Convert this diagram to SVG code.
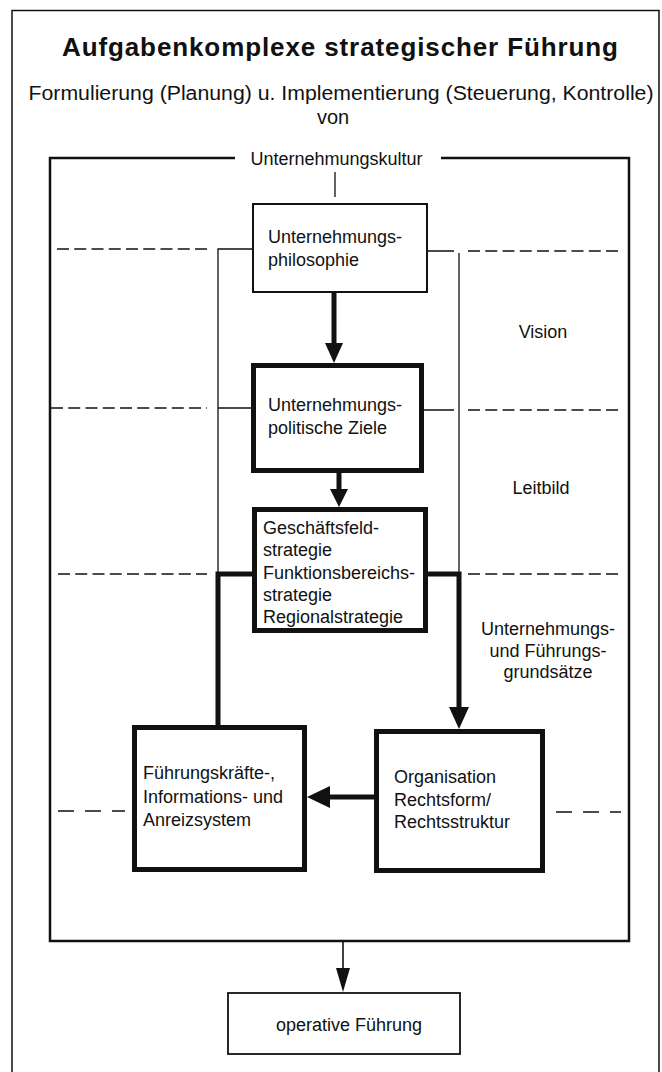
<svg xmlns="http://www.w3.org/2000/svg" width="662" height="1072" viewBox="0 0 662 1072">
<style>
text{font-family:"Liberation Sans",Arial,Helvetica,sans-serif;fill:#111}
.t{font-size:18px}
.title{font-size:26px;font-weight:bold}
.sub{font-size:20px}
.box{fill:#fff;stroke:#111;stroke-width:2}
.thick{fill:#fff;stroke:#111;stroke-width:5}
.thin{stroke:#111;stroke-width:1.3;fill:none}
.bold{stroke:#111;stroke-width:5;fill:none}
.frame{stroke:#111;stroke-width:2.5;fill:none}
.dash{stroke:#111;stroke-width:1.5;stroke-dasharray:12 5.25;fill:none}
.dash2{stroke:#111;stroke-width:1.5;stroke-dasharray:16 11;fill:none}
.head{fill:#111}
</style>
<rect x="0" y="0" width="662" height="1072" fill="#fff"/>
<g id="border">
<path d="M12,1080 V10.5 H659 V1080" fill="none" stroke="#111" stroke-width="1.5"/>
</g>
<g id="header">
<text class="title" x="340" y="56" text-anchor="middle" textLength="556" lengthAdjust="spacing">Aufgabenkomplexe strategischer Führung</text>
<text class="sub" x="341" y="100" text-anchor="middle" textLength="625" lengthAdjust="spacingAndGlyphs">Formulierung (Planung) u. Implementierung (Steuerung, Kontrolle)</text>
<text class="sub" x="333" y="124" text-anchor="middle">von</text>
</g>
<g id="kultur">
<path class="frame" d="M235,158 H50 V941 H629 V158 H441"/>
<text class="t" x="336.5" y="165" text-anchor="middle">Unternehmungskultur</text>
</g>
<g id="dashes">
<path class="dash" d="M57,249 H207 M468,251 H618"/>
<path class="dash" d="M51,408 H207 M468,410 H618"/>
<path class="dash" d="M58,574 H207 M468,574 H618"/>
<path class="dash2" d="M58,811 H125 M556,812 H621"/>
</g>
<g id="labels">
<text class="t" x="543" y="338" text-anchor="middle">Vision</text>
<text class="t" x="541" y="494" text-anchor="middle">Leitbild</text>
<text class="t" x="548" y="635" text-anchor="middle">Unternehmungs-</text>
<text class="t" x="548" y="657" text-anchor="middle">und Führungs-</text>
<text class="t" x="548" y="678" text-anchor="middle">grundsätze</text>
</g>
<g id="connectors">
<path class="thin" d="M335,172 V197"/>
<path class="thin" d="M252,249 H218 V574 M251,408 H218"/>
<path class="thin" d="M428,251 H454 M424,410 H454 M459,253 V574"/>
<path class="bold" d="M252,574 H218 V725"/>
<path class="bold" d="M428,574 H459 V709"/>
<polygon class="head" points="449,707 469,707 459,729"/>
<path class="bold" d="M334,293 V345"/>
<polygon class="head" points="325,343 343,343 334,363"/>
<path class="bold" d="M339,473 V491"/>
<polygon class="head" points="330,489 348,489 339,507"/>
<path class="bold" d="M374,797 H328"/>
<polygon class="head" points="330,786 330,808 307,797"/>
<path class="thin" d="M343,941 V970" style="stroke-width:1.6"/>
<polygon class="head" points="336,968 350,968 343,992"/>
</g>
<g id="philosophie">
<rect class="box" x="253" y="204" width="174" height="88"/>
<text class="t" x="268" y="243">Unternehmungs-</text>
<text class="t" x="268" y="266">philosophie</text>
</g>
<g id="ziele">
<rect class="thick" x="253.5" y="365.5" width="168" height="105"/>
<text class="t" x="268" y="411">Unternehmungs-</text>
<text class="t" x="268" y="434">politische Ziele</text>
</g>
<g id="strategie">
<rect class="thick" x="254.5" y="509.5" width="171" height="121"/>
<text class="t" x="263" y="534">Geschäftsfeld-</text>
<text class="t" x="263" y="556">strategie</text>
<text class="t" x="263" y="579">Funktionsbereichs-</text>
<text class="t" x="263" y="601">strategie</text>
<text class="t" x="263" y="623">Regionalstrategie</text>
</g>
<g id="fuehrungssystem">
<rect class="thick" x="134.5" y="727.5" width="170" height="142"/>
<text class="t" x="143" y="779">Führungskräfte-,</text>
<text class="t" x="143" y="803">Informations- und</text>
<text class="t" x="143" y="826">Anreizsystem</text>
</g>
<g id="organisation">
<rect class="thick" x="376.5" y="731.5" width="166" height="139"/>
<text class="t" x="394" y="783">Organisation</text>
<text class="t" x="394" y="806">Rechtsform/</text>
<text class="t" x="394" y="828">Rechtsstruktur</text>
</g>
<g id="operativ">
<rect class="box" x="228" y="993" width="232" height="61" style="stroke-width:1.8"/>
<text class="t" x="349" y="1031" text-anchor="middle">operative Führung</text>
</g>
</svg>
